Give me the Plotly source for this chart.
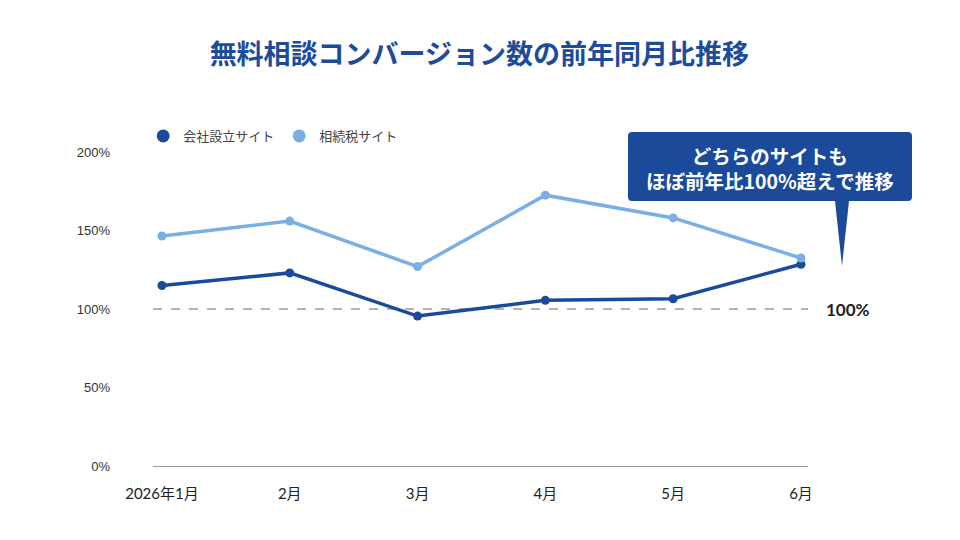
import plotly.graph_objects as go

months = ["2026年1月", "2月", "3月", "4月", "5月", "6月"]
kaisha = [115, 123, 95.5, 105.5, 106.5, 128.5]   # 会社設立サイト
souzoku = [146.5, 156, 127, 172.5, 158, 132.5]  # 相続税サイト
y_ticks = [0, 50, 100, 150, 200]

DARK = "#1b4a9b"
LIGHT = "#7aafe3"
FONT = "Lato, Noto Sans CJK JP, sans-serif"

fig = go.Figure()

for name, vals, color in [("会社設立サイト", kaisha, DARK), ("相続税サイト", souzoku, LIGHT)]:
    fig.add_trace(go.Scatter(
        x=months, y=vals, mode="lines+markers", name=name,
        line=dict(color=color, width=3.5),
        marker=dict(size=9, color=color),
        showlegend=False, cliponaxis=False,
    ))
    # legend entries: just the dot
    fig.add_trace(go.Scatter(
        x=[None], y=[None], mode="markers", name=name,
        marker=dict(size=13, color=color),
    ))

# 100% reference line
fig.add_shape(type="line", xref="paper", yref="y", x0=0, x1=1, y0=100, y1=100,
              line=dict(color="#9a9a9a", width=1.5, dash="dash"), layer="below")
fig.add_annotation(xref="paper", yref="y", x=1.024, y=100, text="<b>100%</b>",
                   showarrow=False, xanchor="left", yanchor="middle",
                   font=dict(size=17, color="#222", family=FONT))

# callout box with tail (positions in page pixels -> paper)
def px_x(p):
    return (p - 153) / 655

def px_y(p):
    return (466 - p) / 314

x0, x1, y0, y1 = px_x(628), px_x(912), px_y(132), px_y(201)
rx, ry = 4 / 655, 4 / 314
box = (f"M {x0+rx},{y0} L {x1-rx},{y0} Q {x1},{y0} {x1},{y0-ry} "
       f"L {x1},{y1+ry} Q {x1},{y1} {x1-rx},{y1} "
       f"L {px_x(849)},{y1} L {px_x(842)},{px_y(266)} L {px_x(835)},{y1} "
       f"L {x0+rx},{y1} Q {x0},{y1} {x0},{y1+ry} "
       f"L {x0},{y0-ry} Q {x0},{y0} {x0+rx},{y0} Z")
fig.add_shape(type="path", xref="paper", yref="paper", path=box,
              fillcolor="#1b4a9b", line=dict(width=0))
fig.add_annotation(xref="paper", yref="paper", x=px_x(770), y=px_y(168),
                   xanchor="center", yanchor="middle",
                   text="<b>どちらのサイトも<br>ほぼ前年比100%超えで推移</b>",
                   showarrow=False, align="center",
                   font=dict(size=19.5, color="white", family="Noto Sans CJK JP"))

fig.update_layout(
    width=960, height=540,
    margin=dict(l=145, r=160, t=144, b=82),
    paper_bgcolor="white", plot_bgcolor="white",
    title=dict(text="<b>無料相談コンバージョン数の前年同月比推移</b>",
               x=0.491, xanchor="center", y=0.913, yanchor="middle",
               font=dict(size=27, color="#1d4c9a", family="Noto Sans CJK JP")),
    legend=dict(orientation="h", x=-0.015, y=1.051, xanchor="left", yanchor="middle",
                font=dict(size=13, color="#444", family="Noto Sans CJK JP"),
                itemwidth=30, tracegroupgap=0),
    font=dict(family=FONT, color="#333"),
)

fig.update_xaxes(type="category", range=[-0.07, 5.055], showgrid=False,
                 showline=True, linecolor="#999", linewidth=1, ticks="",
                 ticklabelstandoff=14, tickfont=dict(size=15, color="#222"))
fig.update_yaxes(range=[0, 200], tickvals=y_ticks, ticktext=[f"{v}%" for v in y_ticks],
                 showgrid=False, zeroline=False, showline=False,
                 ticklabelstandoff=42,
                 tickfont=dict(size=13, color="#333", family="Liberation Sans"))

fig.write_html("out.html")
